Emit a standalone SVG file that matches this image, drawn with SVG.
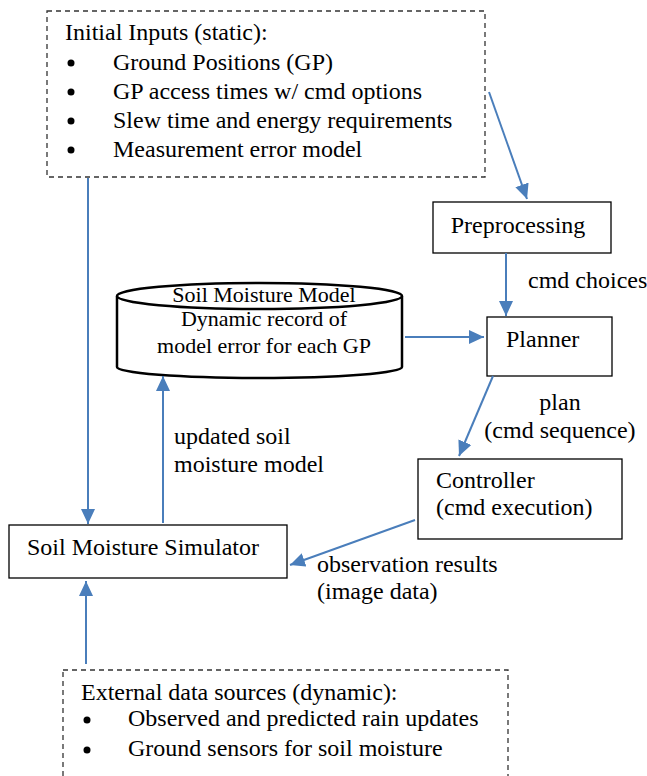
<svg xmlns="http://www.w3.org/2000/svg" width="647" height="776" viewBox="0 0 647 776">
<style>
text { font-family: "Liberation Serif", "Times New Roman", serif; fill: #000; }
.t { font-size: 24px; }
.c { font-size: 22px; }
.box { fill: #fff; stroke: #000; stroke-width: 1.3; }
.dash { fill: none; stroke: #333; stroke-width: 1.3; stroke-dasharray: 5 4; }
.cyl { fill: #fff; stroke: #000; stroke-width: 2.5; }
.conn { stroke: #4a7ebb; stroke-width: 2; fill: none; marker-end: url(#ah); }
</style>
<defs>
<marker id="ah" markerUnits="userSpaceOnUse" markerWidth="16" markerHeight="14" refX="15" refY="7" orient="auto">
<path d="M0,0 L15,7 L0,14 z" fill="#4a7ebb"/>
</marker>
</defs>
<rect width="647" height="776" fill="#fff"/>

<g id="initial-inputs">
<rect class="dash" x="47" y="11" width="438" height="166"/>
<text class="t" x="65" y="40">Initial Inputs (static):</text>
<circle cx="71" cy="63" r="3.5"/>
<circle cx="71" cy="92" r="3.5"/>
<circle cx="71" cy="121" r="3.5"/>
<circle cx="71" cy="150" r="3.5"/>
<text class="t" x="113" y="70">Ground Positions (GP)</text>
<text class="t" x="113" y="99">GP access times w/ cmd options</text>
<text class="t" x="113" y="128">Slew time and energy requirements</text>
<text class="t" x="113" y="157">Measurement error model</text>
</g>

<g id="preprocessing">
<rect class="box" x="433" y="202" width="178" height="51"/>
<text class="t" x="518" y="233" text-anchor="middle">Preprocessing</text>
</g>

<g id="planner">
<rect class="box" x="487" y="317" width="125" height="59"/>
<text class="t" x="506" y="347">Planner</text>
</g>

<g id="soil-moisture-model">
<path class="cyl" d="M117,296 L117,367 A142.5,11 0 0 0 402,367 L402,296"/>
<ellipse class="cyl" cx="259.5" cy="296" rx="142.5" ry="13"/>
<text class="c" x="264" y="302" text-anchor="middle">Soil Moisture Model</text>
<text class="c" x="264" y="326" text-anchor="middle">Dynamic record of</text>
<text class="c" x="264" y="353" text-anchor="middle">model error for each GP</text>
</g>

<g id="controller">
<rect class="box" x="418" y="459" width="204" height="80"/>
<text class="t" x="436" y="488">Controller</text>
<text class="t" x="436" y="515">(cmd execution)</text>
</g>

<g id="simulator">
<rect class="box" x="9" y="525" width="278" height="53"/>
<text class="t" x="27" y="555">Soil Moisture Simulator</text>
</g>

<g id="external-sources">
<rect class="dash" x="63" y="670" width="445" height="130"/>
<text class="t" x="81" y="700">External data sources (dynamic):</text>
<circle cx="87" cy="720" r="3.5"/>
<circle cx="87" cy="750" r="3.5"/>
<text class="t" x="128" y="726">Observed and predicted rain updates</text>
<text class="t" x="128" y="756">Ground sensors for soil moisture</text>
</g>

<g id="connectors">
<line class="conn" x1="489" y1="92" x2="527" y2="199"/>
<line class="conn" x1="506" y1="253" x2="506" y2="316"/>
<line class="conn" x1="405" y1="337" x2="484" y2="337"/>
<line class="conn" x1="493" y1="376" x2="459" y2="456"/>
<line class="conn" x1="415" y1="520" x2="290" y2="565"/>
<line class="conn" x1="88" y1="178" x2="88" y2="524"/>
<line class="conn" x1="163" y1="523" x2="163" y2="376"/>
<line class="conn" x1="86" y1="664" x2="86" y2="581"/>
<text class="t" x="528" y="288">cmd choices</text>
<text class="t" x="560" y="410" text-anchor="middle">plan</text>
<text class="t" x="560" y="438" text-anchor="middle">(cmd sequence)</text>
<text class="t" x="174" y="444">updated soil</text>
<text class="t" x="174" y="472">moisture model</text>
<text class="t" x="317" y="572">observation results</text>
<text class="t" x="317" y="599">(image data)</text>
</g>
</svg>
